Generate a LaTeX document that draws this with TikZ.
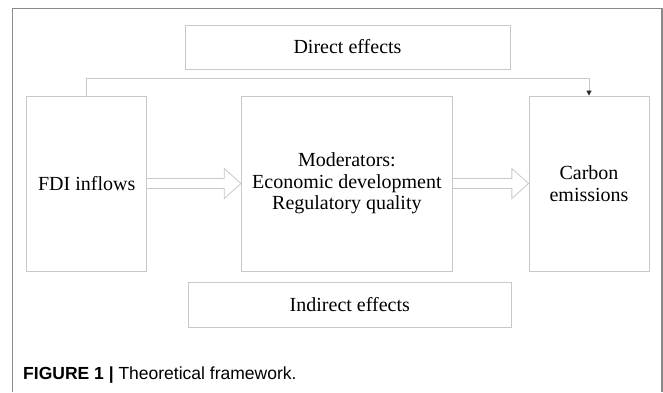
\documentclass[tikz,border=0pt]{standalone}
\usepackage{fontspec}
\setmainfont{Liberation Serif}
\newfontfamily\capfont{Liberation Sans}
\usetikzlibrary{calc,arrows.meta}

\definecolor{boxgray}{HTML}{C8C8C8}
\definecolor{framegray}{HTML}{8A8A8A}

\begin{document}
\begin{tikzpicture} [
        x = 1pt, y = -1pt,
        box/.style = {rectangle, draw=boxgray, line width=0.9pt, inner sep=0pt,
                      align=center, font=\fontsize{20}{21.5}\selectfont},
        link/.style = {draw=boxgray, line width=0.9pt,
                       -{Triangle[length=5pt,width=5pt,color=black!85]}},
        hollow/.style = {draw=boxgray, line width=0.8pt, line join=miter},
        frame/.style = {draw=framegray, line width=1.4pt}
    ]
    \useasboundingbox (0,0) rectangle (663,392);

    % outer frame, open at the bottom
    \draw[frame] (12.7,392) -- (12.7,8.5) -- (662,8.5) -- (662,392);

    \node (Direct) [box, minimum width=325pt, minimum height=44pt] at (347.5,47) {Direct effects};
    \node (FDI) [box, minimum width=120pt, minimum height=175pt] at (86.7,183.5) {FDI inflows};
    \node (Mod) [box, minimum width=211pt, minimum height=175pt] at (346.9,183.5)
        {Moderators:\\Economic development\\Regulatory quality};
    \node (CO2) [box, minimum width=120pt, minimum height=175pt] at (589,183.5) {Carbon\\emissions};
    \node (Indirect) [box, minimum width=323pt, minimum height=45pt] at (349.8,304.5) {Indirect effects};

    \draw[link] (FDI.north) -- ++(0,-17.5) -| (CO2.north);

    % block arrows
    \draw[hollow] ($(FDI.east)+(0,-5)$) -- ($(Mod.west)+(-16.7,-5)$) -- ($(Mod.west)+(-16.7,-15)$)
        -- (Mod.west) -- ($(Mod.west)+(-16.7,15)$) -- ($(Mod.west)+(-16.7,5)$) -- ($(FDI.east)+(0,5)$);
    \draw[hollow] ($(Mod.east)+(0,-5)$) -- ($(CO2.west)+(-16.7,-5)$) -- ($(CO2.west)+(-16.7,-15)$)
        -- (CO2.west) -- ($(CO2.west)+(-16.7,15)$) -- ($(CO2.west)+(-16.7,5)$) -- ($(Mod.east)+(0,5)$);

    \node (Caption) [anchor=base west, inner sep=0pt, font=\capfont\fontsize{17.5}{19}\selectfont]
        at (23,379) {\textbf{FIGURE 1 |} Theoretical framework.};
\end{tikzpicture}
\end{document}
